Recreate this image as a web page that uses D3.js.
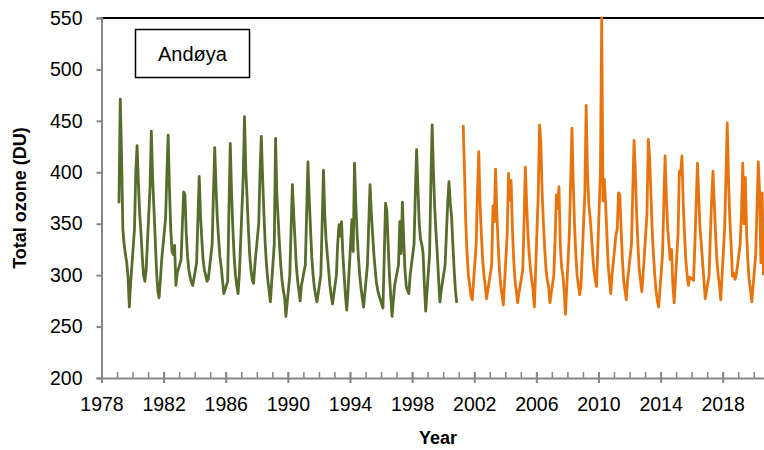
<!DOCTYPE html>
<html>
<head>
<meta charset="utf-8">
<script src="https://cdn.jsdelivr.net/npm/d3@7"></script>
<style>
  html, body { margin: 0; padding: 0; background: #fff; }
  svg { display: block; }
  text { font-family: "Liberation Sans", Arial, sans-serif; fill: #000; }
</style>
</head>
<body>
<svg id="chart" width="764" height="450"></svg>
<script>
// Monthly total ozone (DU) at Andøya, Feb–Nov of each year (polar night excluded).
const observedMonths = [2, 3, 4, 5, 6, 7, 8, 9, 10, 11];

// First record, 1979–2000
const seriesAStartYear = 1979;
const seriesAValues = [
  370, 471, 415, 345, 330, 320, 312, 298, 269, 292, // 1979
  345, 400, 426, 390, 360, 341, 318, 300, 294, 305, // 1980
  385, 440, 395, 365, 335, 305, 285, 278, 295, 315, // 1981
  355, 397, 436, 385, 345, 323, 320, 329, 290, 302, // 1982
  315, 350, 381, 378, 340, 318, 305, 298, 293, 290, // 1983
  312, 355, 396, 358, 335, 315, 305, 300, 294, 296, // 1984
  330, 380, 424, 385, 355, 335, 318, 308, 295, 282, // 1985
  294, 365, 428, 380, 345, 318, 300, 290, 282, 300, // 1986
  395, 454, 402, 375, 345, 320, 305, 295, 292, 310, // 1987
  350, 400, 435, 395, 360, 330, 310, 295, 285, 274, // 1988
  330, 433, 378, 355, 330, 310, 295, 285, 278, 260, // 1989
  300, 345, 388, 360, 335, 310, 295, 285, 275, 290, // 1990
  310, 360, 410, 375, 345, 318, 300, 288, 280, 274, // 1991
  300, 350, 402, 360, 335, 320, 305, 290, 280, 272, // 1992
  300, 330, 349, 338, 352, 320, 300, 280, 266, 285, // 1993
  354, 323, 409, 370, 340, 318, 300, 288, 278, 269, // 1994
  310, 350, 388, 360, 340, 320, 305, 292, 285, 280, // 1995
  268, 320, 370, 362, 330, 300, 280, 260, 275, 290, // 1996
  310, 352, 321, 371, 335, 305, 289, 285, 282, 300, // 1997
  330, 380, 422, 385, 350, 335, 330, 321, 290, 265, // 1998
  320, 390, 446, 400, 365, 341, 320, 295, 274, 285, // 1999
  310, 340, 370, 391, 370, 357, 330, 305, 285, 273  // 2000
];

// Second record, 2001–2020 (null = no value)
const seriesBStartYear = 2001;
const seriesBValues = [
  null, null, 446, 400, 350, 320, 300, 290, 280, 276, // 2001
  330, 380, 420, 370, 340, 315, 300, 290, 277, 285, // 2002
  310, 367, 352, 403, 360, 330, 305, 290, 280, 271, // 2003
  340, 399, 373, 392, 345, 315, 295, 285, 273, 282, // 2004
  305, 350, 405, 370, 340, 320, 305, 295, 285, 269, // 2005
  380, 446, 428, 380, 350, 325, 305, 295, 289, 273, // 2006
  300, 335, 378, 365, 386, 330, 308, 300, 285, 262, // 2007
  340, 390, 443, 390, 350, 320, 300, 290, 281, 290, // 2008
  380, 465, 400, 370, 357, 340, 320, 305, 295, 289, // 2009
  400, 550, 372, 393, 370, 340, 310, 295, 282, 300, // 2010
  339, 345, 380, 378, 345, 315, 295, 285, 276, 295, // 2011
  330, 380, 431, 400, 360, 330, 305, 295, 284, 300, // 2012
  360, 432, 415, 380, 344, 320, 300, 285, 275, 269, // 2013
  320, 370, 416, 375, 345, 330, 315, 325, 290, 273, // 2014
  340, 401, 398, 416, 370, 340, 315, 300, 290, 298, // 2015
  295, 330, 370, 409, 375, 345, 330, 312, 295, 277, // 2016
  300, 340, 375, 401, 370, 340, 315, 300, 290, 276, // 2017
  345, 395, 448, 393, 354, 330, 299, 302, 296, 300, // 2018
  330, 360, 409, 350, 395, 340, 312, 295, 285, 274, // 2019
  320, 365, 410, 381, 312, 380, 300, null, null, null // 2020
];

const yTickValues = [200, 250, 300, 350, 400, 450, 500, 550];
const xTickLabels = ["1978", "1982", "1986", "1990", "1994", "1998", "2002", "2006", "2010", "2014", "2018"];
const stationName = "Andøya";
const xTitle = "Year";
const yTitle = "Total ozone (DU)";

// Turn a flat Feb–Nov table into {t, v} points on a decimal-year time axis
function toPoints(startYear, values) {
  const pts = [];
  values.forEach((v, i) => {
    if (v == null) return;
    const year = startYear + Math.floor(i / observedMonths.length);
    const month = observedMonths[i % observedMonths.length];
    pts.push({ t: year + (month - 0.5) / 12, v });
  });
  return pts;
}

const svg = d3.select("#chart");
const W = 764;
const plotLeft = 101.5, plotTop = 18, plotBottom = 378;

const x = d3.scaleLinear().domain([1978, 2022]).range([plotLeft, plotLeft + 44 * 15.53]);
const y = d3.scaleLinear().domain([200, 550]).range([plotBottom, plotTop]);

const axisGrey = "#868686";
const labelFont = "Liberation Sans, Arial, sans-serif";

// Top frame line
svg.append("line")
  .attr("x1", plotLeft).attr("x2", W)
  .attr("y1", y(550)).attr("y2", y(550))
  .attr("stroke", "#000").attr("stroke-width", 2);

// Minor year ticks (inside)
const minorYears = d3.range(1978, 2023);
const xMinor = svg.append("g").attr("transform", `translate(0,${plotBottom})`)
  .call(d3.axisTop(x).tickValues(minorYears).tickSize(6).tickFormat(""));
xMinor.select(".domain").remove();
xMinor.selectAll(".tick line").attr("stroke", axisGrey).attr("stroke-width", 1.5);

// Major ticks (crossing) with labels
const xAxis = svg.append("g").attr("transform", `translate(0,${plotBottom})`)
  .call(d3.axisBottom(x).tickValues(xTickLabels.map(Number)).tickFormat(d3.format("d")).tickSize(5).tickPadding(14));
xAxis.select(".domain").attr("stroke", axisGrey).attr("stroke-width", 2);
xAxis.selectAll(".tick line").attr("y1", -6).attr("y2", 5).attr("stroke", axisGrey).attr("stroke-width", 2);
xAxis.selectAll(".tick text").attr("font-size", 19.5).attr("font-family", labelFont).attr("fill", "#000");

// Y axis
const yAxis = svg.append("g").attr("transform", `translate(${plotLeft},0)`)
  .call(d3.axisLeft(y).tickValues(yTickValues).tickSize(5).tickPadding(14));
yAxis.select(".domain").attr("stroke", axisGrey).attr("stroke-width", 2);
yAxis.selectAll(".tick line").attr("stroke", axisGrey).attr("stroke-width", 2);
yAxis.selectAll(".tick text").attr("font-size", 19.5).attr("font-family", labelFont).attr("fill", "#000");

// Series lines
const line = d3.line().x(d => x(d.t)).y(d => y(d.v));
svg.append("path")
  .datum(toPoints(seriesAStartYear, seriesAValues))
  .attr("d", line).attr("fill", "none")
  .attr("stroke", "#586d2c").attr("stroke-width", 2.8).attr("stroke-linejoin", "round");
svg.append("path")
  .datum(toPoints(seriesBStartYear, seriesBValues))
  .attr("d", line).attr("fill", "none")
  .attr("stroke", "#e8740f").attr("stroke-width", 2.8).attr("stroke-linejoin", "round");

// Station label box
svg.append("rect")
  .attr("x", 135.5).attr("y", 29.5).attr("width", 114).attr("height", 48)
  .attr("fill", "#fff").attr("stroke", "#000").attr("stroke-width", 1.5);
svg.append("text")
  .attr("x", 192.5).attr("y", 54).attr("text-anchor", "middle").attr("dominant-baseline", "central")
  .attr("font-size", 20).text(stationName);

// Axis titles
svg.append("text")
  .attr("x", 438).attr("y", 438).attr("text-anchor", "middle").attr("dominant-baseline", "central")
  .attr("font-size", 18).attr("font-weight", "bold").text(xTitle);
svg.append("text")
  .attr("transform", `translate(20,${(plotTop + plotBottom) / 2}) rotate(-90)`)
  .attr("text-anchor", "middle").attr("dominant-baseline", "central")
  .attr("font-size", 18).attr("font-weight", "bold").text(yTitle);
</script>
</body>
</html>
